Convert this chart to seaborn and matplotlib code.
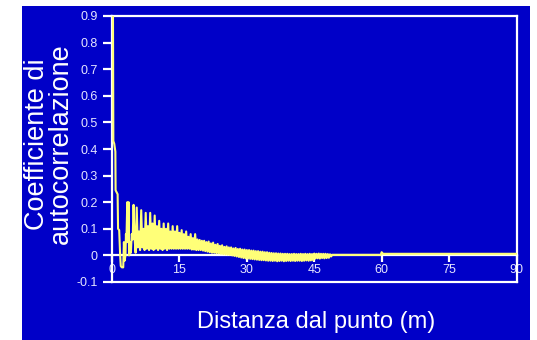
import numpy as np
import pandas as pd
import matplotlib
matplotlib.use("Agg")
import matplotlib.pyplot as plt
from matplotlib.patches import Rectangle
import seaborn as sns

# ---------------- data ----------------
# initial part of the correlogram (lag in m, coefficient)
head_lag = [0.2, 0.3, 0.5, 0.75, 0.8, 1.1, 1.25, 1.35, 1.6, 1.8, 1.95, 2.2, 2.5,
            2.65, 2.8, 3.0, 3.1, 3.2, 3.4, 3.55, 3.7, 3.8, 4.0, 4.2, 4.4, 4.6, 4.8]
head_coef = [1.0, 0.43, 0.42, 0.39, 0.245, 0.235, 0.23, 0.10, 0.095, 0.005, -0.04, -0.045, -0.045,
             0.05, -0.02, 0.0, 0.08, 0.05, 0.20, 0.05, 0.20, 0.0, 0.05, 0.01, 0.08, 0.06, 0.19]

# oscillating part: local maxima (lags 5.0, 5.5, ... 48.5) and minima (lags 5.25, 5.75, ... 48.75)
osc_start, osc_step = 5.0, 0.5
peaks = [0.07, 0.18, 0.09, 0.17, 0.10, 0.16, 0.11, 0.16, 0.12, 0.15,
         0.11, 0.13, 0.10, 0.12, 0.10, 0.12, 0.09, 0.11, 0.09, 0.11,
         0.085, 0.095, 0.08, 0.09, 0.07, 0.08, 0.065, 0.08, 0.06, 0.058,
         0.055, 0.055, 0.05, 0.052, 0.045, 0.048, 0.04, 0.043, 0.036, 0.038,
         0.032, 0.034, 0.03, 0.03, 0.026, 0.028, 0.024, 0.025, 0.022, 0.022,
         0.02, 0.02, 0.018, 0.018, 0.016, 0.016, 0.014, 0.014, 0.012, 0.012,
         0.01, 0.009, 0.008, 0.008, 0.007, 0.007, 0.006, 0.006, 0.006, 0.005,
         0.005, 0.006, 0.005, 0.005, 0.006, 0.005, 0.006, 0.005, 0.006, 0.005,
         0.007, 0.006, 0.007, 0.006, 0.006, 0.006, 0.005, 0.004]
troughs = [0.01, 0.03, 0.02, 0.03, 0.02, 0.025, 0.02, 0.025, 0.02, 0.025,
           0.02, 0.025, 0.02, 0.025, 0.02, 0.025, 0.025, 0.025, 0.025, 0.025,
           0.025, 0.025, 0.025, 0.025, 0.025, 0.022, 0.022, 0.02, 0.02, 0.02,
           0.018, 0.016, 0.014, 0.012, 0.01, 0.01, 0.008, 0.008, 0.006, 0.005,
           0.004, 0.003, 0.002, 0.0, -0.002, -0.004, -0.006, -0.008, -0.01, -0.011,
           -0.012, -0.013, -0.014, -0.015, -0.016, -0.017, -0.018, -0.018, -0.019, -0.02,
           -0.02, -0.021, -0.02, -0.022, -0.021, -0.02, -0.022, -0.021, -0.02, -0.021,
           -0.02, -0.021, -0.02, -0.02, -0.021, -0.02, -0.019, -0.02, -0.019, -0.018,
           -0.012, -0.011, -0.012, -0.01, -0.011, -0.01, -0.009, -0.004]

# flat tail
tail_lag = [49.0, 59.8, 60.0, 60.3, 90.0]
tail_coef = [0.002, 0.002, 0.012, 0.006, 0.006]

xticks = [0, 15, 30, 45, 60, 75, 90]
yticks = [-0.1, 0.0, 0.1, 0.2, 0.3, 0.4, 0.5, 0.6, 0.7, 0.8, 0.9]
ytick_labels = ["-0.1", "0", "0.1", "0.2", "0.3", "0.4", "0.5", "0.6", "0.7", "0.8", "0.9"]
xlabel = "Distanza dal punto (m)"
ylabel = "Coefficiente di\nautocorrelazione"

# ---------------- build table ----------------
osc_lag = []
osc_coef = []
for i, (p, t) in enumerate(zip(peaks, troughs)):
    osc_lag += [osc_start + osc_step * i, osc_start + osc_step * i + osc_step / 2]
    osc_coef += [p, t]

df = pd.DataFrame({
    "lag": head_lag + osc_lag + tail_lag,
    "coef": head_coef + osc_coef + tail_coef,
})

# ---------------- style ----------------
sns.set_style("ticks")
plt.rcParams["font.family"] = ["Liberation Sans", "DejaVu Sans"]

BLUE = "#0000C8"
YELLOW = "#FFFF78"
WHITE = "#FFFFFF"
TICKC = "#E6E6FF"

W, H = 537, 340
fig = plt.figure(figsize=(W / 100, H / 100), dpi=100, facecolor="white")
fig.patches.append(Rectangle((22 / W, 0), (530 - 22) / W, 1 - 6 / H,
                             transform=fig.transFigure, facecolor=BLUE,
                             edgecolor="none", zorder=-10))

left, right, top, bottom = 112 / W, 516.5 / W, 1 - 16 / H, 1 - 282 / H
ax = fig.add_axes([left, bottom, right - left, top - bottom])
ax.set_facecolor(BLUE)

sns.lineplot(data=df, x="lag", y="coef", ax=ax, sort=False, estimator=None,
             color=YELLOW, linewidth=1.5, zorder=3)

ax.set_xlim(0, 90)
ax.set_ylim(-0.1, 0.9)
ax.set_xlabel("")
ax.set_ylabel("")

for s in ["left", "right", "top", "bottom"]:
    ax.spines[s].set_visible(True)
    ax.spines[s].set_color(WHITE)
    ax.spines[s].set_linewidth(1.6)

ax.set_yticks(yticks)
ax.set_yticklabels(ytick_labels)
ax.tick_params(axis="y", colors=WHITE, labelcolor=TICKC, length=6.5, width=1.6,
               labelsize=9, pad=4, direction="out")
ax.tick_params(axis="x", bottom=False, labelbottom=False, top=False)

# x axis drawn through y = 0
sec = ax.secondary_xaxis(0.1)
sec.set_xticks(xticks)
sec.set_xticklabels([str(v) for v in xticks])
sec.spines["bottom"].set_color(WHITE)
sec.spines["bottom"].set_linewidth(1.6)
sec.tick_params(axis="x", colors=WHITE, labelcolor=TICKC, length=5, width=1.6,
                labelsize=9, pad=1.5, direction="out")

fig.text(316 / W, 1 - 328 / H, xlabel, color=WHITE, fontsize=17,
         ha="center", va="baseline")
fig.text(49 / W, 1 - 144 / H, ylabel, color=WHITE, fontsize=19.5, rotation=90,
         ha="center", va="center", multialignment="center", linespacing=0.92)

fig.savefig("out.png", dpi=100, facecolor="white")
